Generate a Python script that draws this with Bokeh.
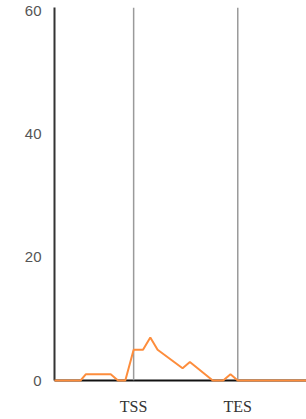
from bokeh.plotting import figure
from bokeh.models import Span, FixedTicker, Range1d
from bokeh.embed import file_html
from bokeh.resources import INLINE

# Positions relative to gene (TSS = 0, TES = 100), signal values
pos = [-76, -51, -46, -22, -15, -8, 0, 9, 16, 23, 47, 54, 76, 86, 93, 100, 170]
signal = [0, 0, 1, 1, 0, 0, 5, 5, 7, 5, 2, 3, 0, 0, 1, 0, 0]
tick_pos = [0, 100]
tick_labels = ["TSS", "TES"]
y_ticks = [0, 20, 40, 60]

p = figure(width=306, height=417, output_backend="svg", toolbar_location=None,
           x_range=Range1d(-76, 166), y_range=Range1d(0, 60.6),
           min_border_left=54, min_border_right=0, min_border_top=7, min_border_bottom=36)
p.outline_line_color = None
p.xgrid.visible = False
p.ygrid.visible = False

for t in tick_pos:
    p.add_layout(Span(location=t, dimension="height", line_color="#9a9a9a", line_width=1.5))

p.line(pos, signal, line_color="#fd8d3c", line_width=2, level="overlay")

p.xaxis.ticker = FixedTicker(ticks=tick_pos)
p.xaxis.major_label_overrides = {t: l for t, l in zip(tick_pos, tick_labels)}
p.xaxis.major_tick_line_color = None
p.xaxis.minor_tick_line_color = None
p.xaxis.axis_line_color = "#111111"
p.xaxis.axis_line_width = 2
p.xaxis.major_label_text_font = "Liberation Serif"
p.xaxis.major_label_text_font_size = "16px"
p.xaxis.major_label_text_color = "#333333"
p.xaxis.major_label_standoff = 11

p.yaxis.ticker = FixedTicker(ticks=y_ticks)
p.yaxis.major_tick_line_color = None
p.yaxis.minor_tick_line_color = None
p.yaxis.axis_line_color = "#333333"
p.yaxis.axis_line_width = 2
p.yaxis.major_label_text_font = "Liberation Sans"
p.yaxis.major_label_text_font_size = "15px"
p.yaxis.major_label_text_color = "#555555"
p.yaxis.major_label_standoff = 7

open("out.html", "w").write(file_html(p, INLINE))
